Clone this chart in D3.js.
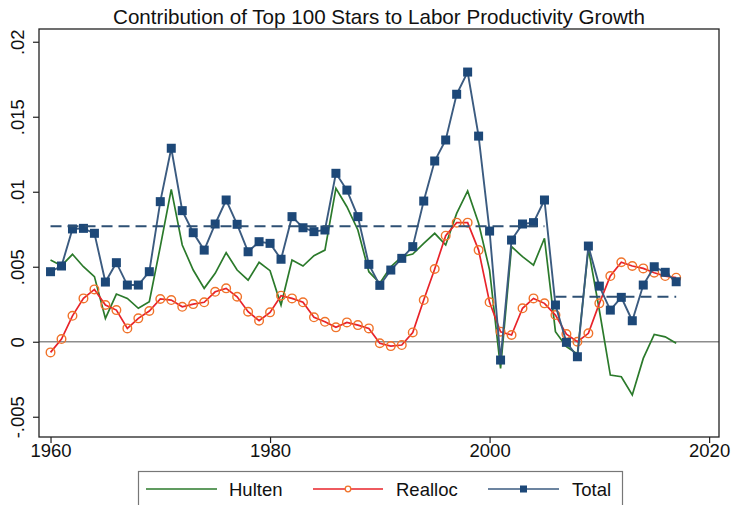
<!DOCTYPE html>
<html>
<head>
<meta charset="utf-8">
<script src="https://cdn.jsdelivr.net/npm/d3@7"></script>
<style>
  html, body { margin: 0; padding: 0; background: #fff; }
  svg { display: block; font-family: "Liberation Sans", Arial, sans-serif; }
</style>
</head>
<body>
<svg id="chart" width="732" height="505"></svg>
<script>
const years = d3.range(1960, 2018);
const total = [0.00467,0.00505,0.00752,0.00756,0.00723,0.00398,0.00527,0.00378,0.00378,0.00467,
  0.00934,0.0129,0.00874,0.00727,0.00611,0.00785,0.00945,0.00783,0.0060,0.00667,
  0.00656,0.0055,0.00834,0.0076,0.00734,0.00745,0.01123,0.01011,0.00834,0.00516,
  0.00376,0.00478,0.00556,0.00634,0.00938,0.01205,0.01345,0.0165,0.01798,0.01371,
  0.00738,-0.00122,0.00678,0.00785,0.00794,0.00945,0.00245,-0.00004,-0.001,0.00638,
  0.00371,0.00211,0.00296,0.0014,0.00378,0.005,0.00463,0.004];
const hulten = [0.00545,0.00507,0.00583,0.0050,0.00434,0.00156,0.00318,0.00289,0.00223,0.00267,
  0.00634,0.01016,0.00645,0.00478,0.00356,0.00456,0.00594,0.00478,0.00411,0.0053,
  0.00474,0.00245,0.00545,0.00505,0.00574,0.00611,0.01023,0.009,0.00745,0.00467,
  0.0039,0.005,0.00567,0.00585,0.00656,0.00723,0.00645,0.00856,0.01005,0.0079,
  0.00478,-0.00178,0.00634,0.00567,0.00511,0.0069,0.00067,-0.00033,-0.00082,0.0062,
  0.0021,-0.00222,-0.00233,-0.00355,-0.00111,0.00049,0.00033,-0.0001];
const realloc = [-0.00071,0.00018,0.00173,0.00289,0.00349,0.00245,0.00211,0.00089,0.00156,0.00205,
  0.00285,0.00278,0.00233,0.00251,0.00263,0.00333,0.00356,0.003,0.002,0.0014,
  0.00196,0.00307,0.00289,0.00263,0.00163,0.00133,0.00096,0.00129,0.00111,0.00089,
  -0.0001,-0.00029,-0.00022,0.00062,0.00278,0.00485,0.00707,0.00794,0.00794,0.00611,
  0.00263,0.00067,0.00045,0.00223,0.00289,0.00256,0.00178,0.00051,0.0,0.00056,
  0.00256,0.00438,0.0053,0.00505,0.00489,0.0046,0.00438,0.00427];
// period means (dashed reference lines)
const periodStart = [1960, 2006];
const periodEnd = [2005, 2017];
const periodMean = [0.0077, 0.0030];

const xTicks = [1960, 1980, 2000, 2020];
const yTicks = [-0.005, 0, 0.005, 0.01, 0.015, 0.02];
const yTickLabels = ["-.005", "0", ".005", ".01", ".015", ".02"];
const seriesNames = ["Hulten", "Realloc", "Total"];
const title = "Contribution of Top 100 Stars to Labor Productivity Growth";

const svg = d3.select("#chart");
const L = 39, R = 719, T = 29, B = 437;
const x = d3.scaleLinear().domain([1958.95, 2020.9]).range([L, R]);
const y = d3.scaleLinear().domain([-0.00635, 0.02085]).range([B, T]);

const cGreen = "#2b7a2b", cRed = "#e8232a", cOrange = "#f0732a", cNavy = "#1d4878", cNavyLine = "#3b5b80";

// title
svg.append("text").attr("x", 379).attr("y", 23.5).attr("text-anchor", "middle")
  .attr("font-size", 20.6).attr("fill", "#111").text(title);

// zero line
svg.append("line").attr("x1", L).attr("x2", R).attr("y1", y(0)).attr("y2", y(0))
  .attr("stroke", "#8c8c8c").attr("stroke-width", 1.6);

// axes
const yAxis = d3.axisLeft(y).tickValues(yTicks).tickSize(6)
  .tickFormat((d, i) => yTickLabels[i]);
const gy = svg.append("g").attr("transform", `translate(${L},0)`).call(yAxis);
gy.select(".domain").remove();
gy.selectAll("line").attr("stroke", "#222").attr("stroke-width", 1.2);
gy.selectAll(".tick text").attr("font-size", 18.5).attr("fill", "#111")
  .attr("text-anchor", "middle").attr("x", 0).attr("y", 0).attr("dy", "0.36em")
  .attr("transform", "translate(-22,0) rotate(-90)");

const xAxis = d3.axisBottom(x).tickValues(xTicks).tickSize(6).tickFormat(d3.format("d"));
const gx = svg.append("g").attr("transform", `translate(0,${B})`).call(xAxis);
gx.select(".domain").remove();
gx.selectAll("line").attr("stroke", "#222").attr("stroke-width", 1.2);
gx.selectAll("text").attr("font-size", 18.5).attr("fill", "#111").attr("dy", "0.6em");

// frame
svg.append("rect").attr("x", L).attr("y", T).attr("width", R - L).attr("height", B - T)
  .attr("fill", "none").attr("stroke", "#222").attr("stroke-width", 1.3);

const line = d3.line().x(d => x(d[0])).y(d => y(d[1]));
const pts = arr => years.map((yr, i) => [yr, arr[i]]);

svg.append("path").datum(pts(hulten)).attr("d", line)
  .attr("fill", "none").attr("stroke", cGreen).attr("stroke-width", 1.7);

svg.append("path").datum(pts(realloc)).attr("d", line)
  .attr("fill", "none").attr("stroke", cRed).attr("stroke-width", 1.7);
svg.append("g").selectAll("circle").data(pts(realloc)).join("circle")
  .attr("cx", d => x(d[0])).attr("cy", d => y(d[1])).attr("r", 4.3)
  .attr("fill", "none").attr("stroke", cOrange).attr("stroke-width", 1.4);

svg.append("path").datum(pts(total)).attr("d", line)
  .attr("fill", "none").attr("stroke", cNavyLine).attr("stroke-width", 1.9);
svg.append("g").selectAll("rect").data(pts(total)).join("rect")
  .attr("x", d => x(d[0]) - 4.5).attr("y", d => y(d[1]) - 4.5)
  .attr("width", 9).attr("height", 9).attr("fill", cNavy);

// dashed period mean lines
svg.append("g").selectAll("line").data(periodMean).join("line")
  .attr("x1", (d, i) => x(periodStart[i])).attr("x2", (d, i) => x(periodEnd[i]))
  .attr("y1", d => y(d)).attr("y2", d => y(d))
  .attr("stroke", "#2e5074").attr("stroke-width", 1.9).attr("stroke-dasharray", "11,6");

// legend
const lg = svg.append("g");
lg.append("rect").attr("x", 138.5).attr("y", 471.5).attr("width", 484).attr("height", 45)
  .attr("fill", "#fff").attr("stroke", "#777").attr("stroke-width", 1.2);
const items = [
  {name: seriesNames[0], x0: 146, x1: 217, tx: 229, color: cGreen, mark: null},
  {name: seriesNames[1], x0: 313, x1: 383, tx: 396, color: cRed, mark: "circle"},
  {name: seriesNames[2], x0: 488, x1: 559, tx: 572, color: cNavyLine, mark: "square"}
];
const ly = 489;
items.forEach(it => {
  lg.append("line").attr("x1", it.x0).attr("x2", it.x1).attr("y1", ly).attr("y2", ly)
    .attr("stroke", it.color).attr("stroke-width", 1.7);
  if (it.mark === "circle") {
    lg.append("circle").attr("cx", (it.x0 + it.x1) / 2).attr("cy", ly).attr("r", 2.8)
      .attr("fill", "#fff").attr("stroke", cOrange).attr("stroke-width", 1.3);
  } else if (it.mark === "square") {
    lg.append("rect").attr("x", (it.x0 + it.x1) / 2 - 3.5).attr("y", ly - 3.5)
      .attr("width", 7).attr("height", 7).attr("fill", cNavy);
  }
  lg.append("text").attr("x", it.tx).attr("y", ly).attr("dy", "0.36em")
    .attr("font-size", 18.5).attr("fill", "#111").text(it.name);
});
</script>
</body>
</html>
